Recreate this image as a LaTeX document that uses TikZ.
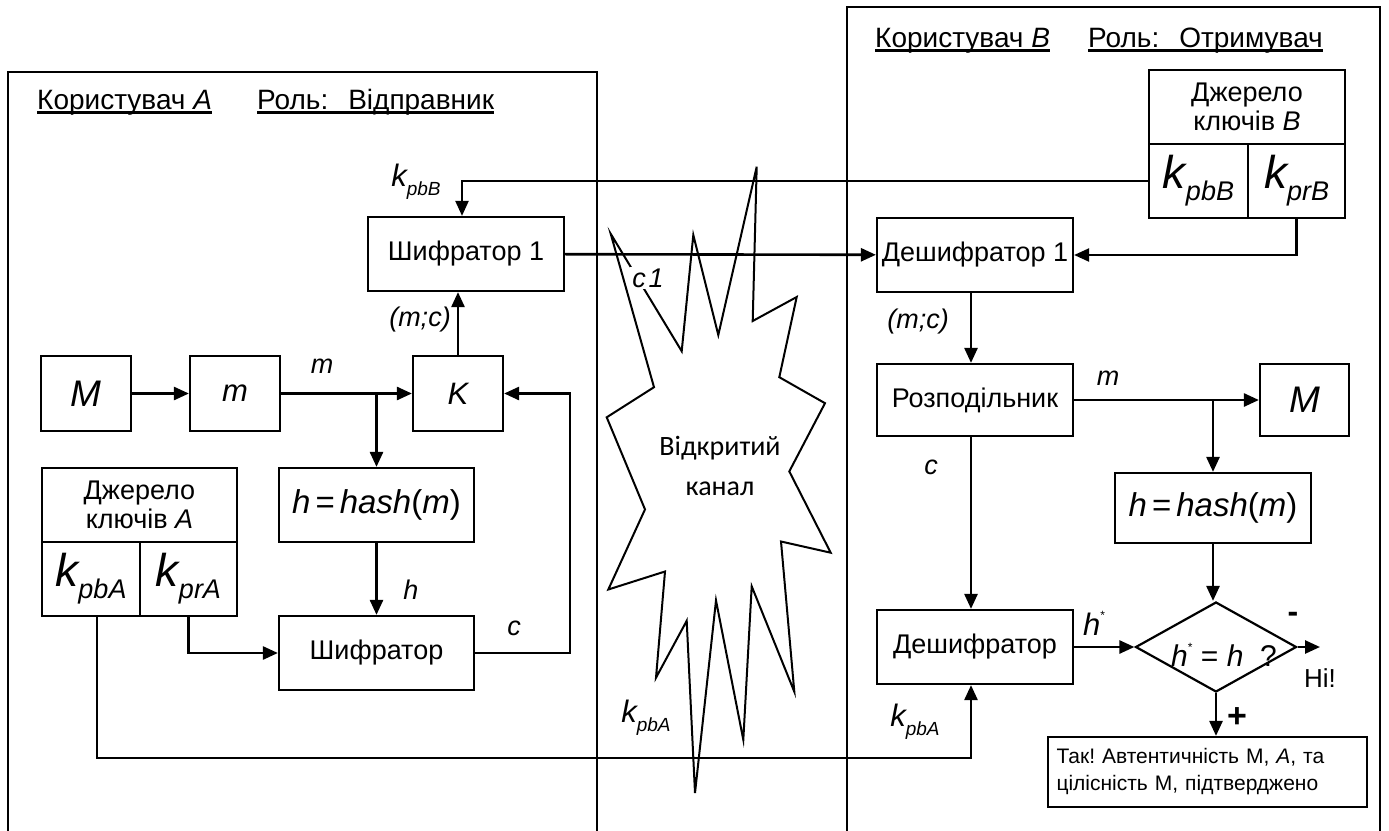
\documentclass[tikz,border=0pt]{standalone}
\usepackage{fontspec}
\setmainfont{Liberation Sans}
\newfontfamily\starfont{Carlito}
\usetikzlibrary{arrows.meta,shapes.geometric}
\frenchspacing
\newcommand\fs[2]{\fontsize{#1}{#2}\selectfont}
\newcommand\kk[4]{{\fs{#1}{#1}\itshape k}\raisebox{-#3pt}{\fs{#2}{#2}\itshape #4}}
\newcommand\ulx[1]{\setbox0\hbox{#1}\rlap{\rule[-4.5pt]{\wd0}{2.2pt}}\box0}
\newcommand\hashtxt{\textit{h}\kern5pt=\kern5pt\textit{hash}(\textit{m})}
\newcommand\hstar[1]{{\fs{#1}{#1}\itshape h}\raisebox{0.5\dimexpr#1pt\relax}{\fs{12}{12}*}}
\begin{document}
\begin{tikzpicture}[x=1pt,y=-1pt,
  box/.style={draw, line width=2.2pt, inner sep=0pt, align=center},
  arr/.style={line width=2.6pt, -{Triangle[length=15pt,width=13pt]}},
  lbl/.style={inner sep=0pt, font=\fs{27}{30}\itshape},
  frame/.style={line width=2pt},
  hdr/.style={inner sep=0pt, anchor=base west, font=\fs{28}{30}}]
\useasboundingbox (0,0) rectangle (1389,830);
\fill[white] (0,0) rectangle (1389,830);

% frames
\draw[frame] (8,840) -- (8,72) -- (597,72) -- (597,840);
\draw[frame] (847,840) -- (847,7) -- (1380,7) -- (1380,840);

% headers
\node[hdr] (hA1) at (37,109) {\ulx{Користувач \textit{A}}};
\node[hdr] (hA2) at (257,109) {\ulx{Роль:\hspace{20pt}Відправник}};
\node[hdr] (hB1) at (875,47) {\ulx{Користувач \textit{B}}};
\node[hdr] (hB2) at (1088,47) {\ulx{Роль:\hspace{20pt}Отримувач}};

% open channel star
\draw[line width=2pt] (610.7,233.8) -- (681.7,351.2) -- (693.3,235) -- (718.3,335)
 -- (756.7,166.7) -- (752.7,321) -- (796.7,297) -- (779.3,377.2) -- (825,403.2)
 -- (789.3,471.4) -- (830.7,552.7) -- (781,541.5) -- (794.3,691.7) -- (751.7,586.3)
 -- (743.3,739.8) -- (716,600.4) -- (695,793) -- (686.7,620.8) -- (656,677.7)
 -- (665,571.5) -- (608.3,589.5) -- (645,509.4) -- (606.7,417.3) -- (654,387.2) -- cycle;
\node[lbl, fill=white, inner sep=2pt] (lc1star) at (648,278) {c\kern3pt 1};
\node[inner sep=0pt, anchor=base, font=\starfont\fs{28}{30}] (chan1) at (720,455) {Відкритий};
\node[inner sep=0pt, anchor=base, font=\starfont\fs{28}{30}] (chan2) at (720,495) {канал};

% user A
\node[box, minimum width=90, minimum height=75, font=\fs{37}{40}\itshape] (MA) at (86,393.5) {M};
\node[box, minimum width=90, minimum height=75, font=\fs{31}{34}\itshape] (mA) at (235,393.5) {m};
\node[box, minimum width=90, minimum height=75, font=\fs{31}{34}\itshape] (K) at (458,393.5) {K};
\node[box, minimum width=196, minimum height=74, font=\fs{27}{30}] (enc1) at (466,254) {Шифратор 1};
\node[box, minimum width=195, minimum height=74, font=\fs{33}{36}] (hashA) at (376.5,505) {\hashtxt};
\node[box, minimum width=195, minimum height=74, font=\fs{27}{30}] (enc) at (376.5,653) {Шифратор};
\node[box, minimum width=195, minimum height=74, font=\fs{27}{29}] (srcA) at (139.5,505) {Джерело\\ключів \textit{A}};
\node[box, minimum width=98, minimum height=74] (kpbA) at (91,579) {\kk{46}{27}{12}{pbA}};
\node[box, minimum width=97, minimum height=74] (kprA) at (188.5,579) {\kk{46}{27}{12}{prA}};

% user B
\node[box, minimum width=196, minimum height=74, font=\fs{27}{29}] (srcB) at (1247,107) {Джерело\\ключів \textit{B}};
\node[box, minimum width=99, minimum height=74] (kpbB) at (1198.5,181) {\kk{46}{27}{12}{pbB}};
\node[box, minimum width=97, minimum height=74] (kprB) at (1296.5,181) {\kk{46}{27}{12}{prB}};
\node[box, minimum width=196, minimum height=74, font=\fs{27}{30}] (dec1) at (975,255) {Дешифратор 1};
\node[box, minimum width=196, minimum height=72, font=\fs{27}{30}] (split) at (975,400) {Розподільник};
\node[box, minimum width=89, minimum height=72, font=\fs{37}{40}\itshape] (MB) at (1304.5,400) {M};
\node[box, minimum width=196, minimum height=70, font=\fs{33}{36}] (hashB) at (1213,508) {\hashtxt};
\node[box, minimum width=196, minimum height=74, font=\fs{27}{30}] (dec) at (975,647) {Дешифратор};
\node[draw, diamond, line width=2.2pt, minimum width=161, minimum height=90, inner sep=0pt] (cmp) at (1216,647) {};
\node[inner sep=0pt, anchor=base west, font=\fs{30}{32}] (cmpt) at (1171,666) {\hstar{30}\ =\ \textit{h}\ \ ?};
\node[box, minimum width=319, minimum height=70, font=\fs{21}{27}, align=left, text width=302] (res) at (1207.5,772) {Так! Автентичність М, \textit{A}, та\\цілісність М, підтверджено};
\coordinate (no) at (1320,647);

% connectors A
\draw[arr] (MA) -- (mA);
\draw[arr] (mA) -- (K);
\draw[arr] (hashA.north |- mA.east) -- (hashA.north);
\draw[arr] (hashA) -- (enc);
\draw[arr] (kprA.south) |- (enc.west);
\draw[arr] (enc.east) -- ++(95,0) |- (K.east);
\draw[arr] (K.north) -- (K.north |- enc1.south);
\draw[arr, line width=2.2pt] (kpbB.west) -| ([xshift=-4pt]enc1.north);
\draw[arr] (enc1) -- (dec1);
\draw[arr, line width=2.2pt] (kprB.south) |- (dec1.east);
% connectors B
\draw[arr] ([xshift=-4pt]dec1.south) -- ([xshift=-4pt]split.north);
\draw[arr] (split) -- (MB);
\draw[arr] (hashB.north |- split.east) -- (hashB.north);
\draw[arr] (hashB.south) -- (hashB.south |- cmp.north);
\draw[arr] ([xshift=-4pt]split.south) -- ([xshift=-4pt]dec.north);
\draw[arr] ([xshift=6pt]kpbA.south) -- ++(0,141) -| ([xshift=-4pt]dec.south);
\draw[arr] (dec.east) -- (dec.east -| cmp.west);
\draw[arr] (cmp.east) -- (no);
\draw[arr] (cmp.south) -- (cmp.south |- res.north);

% labels
\node[lbl] (lm1) at (322,366) {m};
\node[lbl] (lh1) at (411,590) {h};
\node[lbl] (lc1) at (514,628) {c};
\node[lbl] (lmc1) at (420,320) {(m;c)};
\node[inner sep=0pt] (lkB) at (416,182) {\kk{31}{19}{9}{pbB}};
\node[inner sep=0pt] (lkA1) at (646,718) {\kk{31}{19}{9}{pbA}};
\node[inner sep=0pt] (lkA2) at (915,722) {\kk{31}{19}{9}{pbA}};
\node[lbl] (lmc2) at (918,322) {(m;c)};
\node[lbl] (lm2) at (1108,378) {m};
\node[lbl] (lc2) at (931,467) {c};
\node[inner sep=0pt, anchor=base west] (lhs) at (1083,635) {\hstar{31}};
\node[inner sep=0pt, font=\fs{32}{34}\bfseries] (lminus) at (1293,617) {-};
\node[inner sep=0pt, font=\fs{26}{30}] (lno) at (1320,678) {Ні!};
\node[inner sep=0pt, font=\fs{34}{34}\bfseries] (lplus) at (1237,718) {+};
\end{tikzpicture}
\end{document}
